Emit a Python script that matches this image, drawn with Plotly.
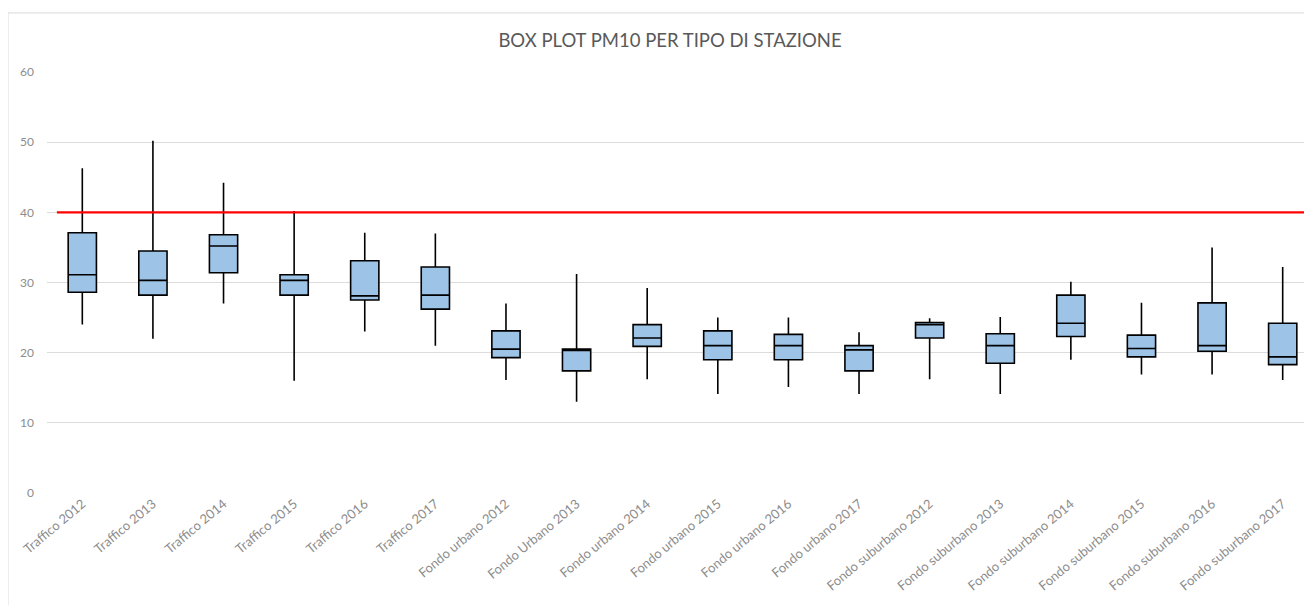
import plotly.graph_objects as go

categories = [
    "Traffico 2012", "Traffico 2013", "Traffico 2014", "Traffico 2015",
    "Traffico 2016", "Traffico 2017",
    "Fondo urbano 2012", "Fondo Urbano 2013", "Fondo urbano 2014",
    "Fondo urbano 2015", "Fondo urbano 2016", "Fondo urbano 2017",
    "Fondo suburbano 2012", "Fondo suburbano 2013", "Fondo suburbano 2014",
    "Fondo suburbano 2015", "Fondo suburbano 2016", "Fondo suburbano 2017",
]
minimum = [24, 22, 27, 16, 23, 21, 16.1, 13, 16.2, 14.1, 15.1, 14.1, 16.2, 14.1, 19, 16.9, 16.9, 16.1]
q1 = [28.6, 28.2, 31.4, 28.2, 27.5, 26.2, 19.3, 17.4, 20.9, 19, 19, 17.4, 22.1, 18.5, 22.3, 19.4, 20.2, 18.3]
median = [31.1, 30.3, 35.2, 30.3, 28.1, 28.2, 20.5, 20.3, 22.1, 21, 21, 20.4, 24, 21, 24.2, 20.6, 21, 19.4]
q3 = [37.1, 34.5, 36.8, 31.1, 33.1, 32.2, 23.1, 20.5, 24, 23.1, 22.6, 21, 24.3, 22.7, 28.2, 22.5, 27.1, 24.2]
maximum = [46.3, 50.2, 44.2, 40.2, 37.1, 37, 27, 31.2, 29.2, 25, 25, 22.9, 24.9, 25.1, 30.1, 27.1, 35, 32.2]
y_ticks = [0, 10, 20, 30, 40, 50, 60]
limit_value = 40
title_text = "BOX PLOT PM10 PER TIPO DI STAZIONE"

x_idx = list(range(len(categories)))

fig = go.Figure()
fig.add_trace(go.Box(
    x=x_idx,
    q1=q1, median=median, q3=q3,
    lowerfence=minimum, upperfence=maximum,
    fillcolor="#9DC3E6",
    line=dict(color="#000000", width=1.6),
    whiskerwidth=0,
    width=0.4,
    boxpoints=False,
    hoverinfo="skip",
    showlegend=False,
))

fig.update_layout(
    width=1312, height=605,
    paper_bgcolor="white", plot_bgcolor="white",
    margin=dict(l=39, r=2, t=64, b=120),
    font=dict(family="Lato, Open Sans, sans-serif", color="#7f7f7f"),
    title=dict(text=title_text, x=0.5046, xanchor="center", y=0.947, yanchor="middle",
               font=dict(size=18.5, color="#595959")),
    xaxis=dict(
        range=[-0.5, 17.5],
        tickmode="array", tickvals=x_idx, ticktext=categories,
        tickangle=-40, tickfont=dict(size=13, color="#8c8c8c"),
        showgrid=False, zeroline=False, showline=False, ticks="",
    ),
    yaxis=dict(
        range=[0, 60], tickmode="array", tickvals=y_ticks,
        tickfont=dict(size=12, color="#8c8c8c"),
        showgrid=True, gridcolor="#dcdcdc", gridwidth=1,
        zeroline=False, showline=False, ticks="", ticklabelstandoff=12,
    ),
    shapes=[
        dict(type="line", xref="x", yref="y", x0=-0.36, x1=17.5,
             y0=limit_value, y1=limit_value, line=dict(color="#ff0000", width=2.2)),
        dict(type="rect", xref="paper", yref="paper",
             x0=-0.0307, x1=1.02, y0=-0.3, y1=1.1403,
             line=dict(color="#d9d9d9", width=1), fillcolor="rgba(0,0,0,0)", layer="below"),
    ],
)

fig.write_html("out.html")
